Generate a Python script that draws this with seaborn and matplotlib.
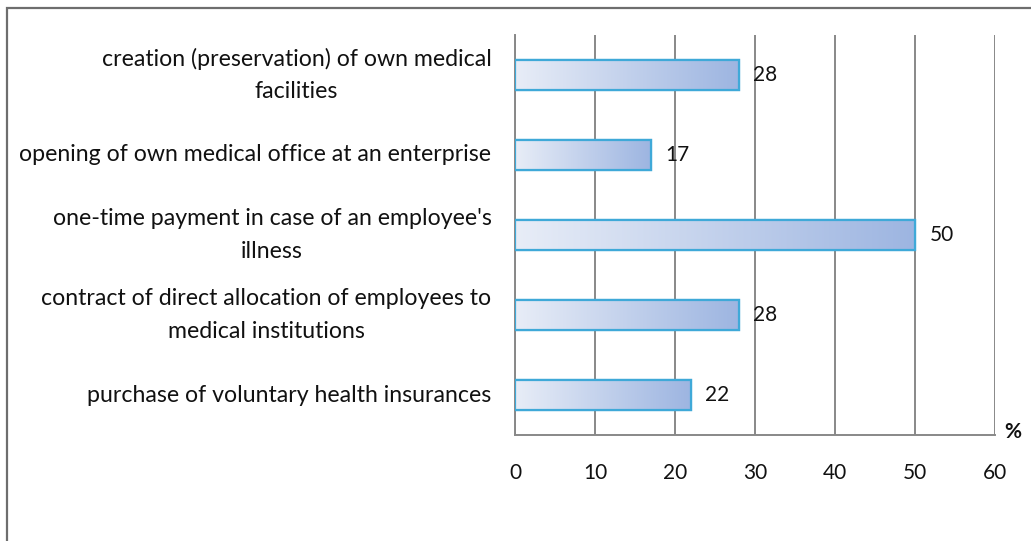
import numpy as np
import pandas as pd
import matplotlib
matplotlib.use("Agg")
import matplotlib.pyplot as plt
import seaborn as sns
from matplotlib.colors import LinearSegmentedColormap
from matplotlib.patches import Rectangle

categories = [
    "creation (preservation) of own medical\nfacilities",
    "opening of own medical office at an enterprise",
    "one-time payment in case of an employee's\nillness",
    "contract of direct allocation of employees to\nmedical institutions",
    "purchase of voluntary health insurances",
]
values = [28, 17, 50, 28, 22]
x_ticks = [0, 10, 20, 30, 40, 50, 60]
unit_label = "%"

sns.set_style("white")
plt.rcParams['font.family'] = ['Lato', 'DejaVu Sans']

df = pd.DataFrame({"category": categories, "value": values})

fig = plt.figure(figsize=(10.31, 5.41), dpi=100)
ax = fig.add_axes([515 / 1031, 1 - 435 / 541, 480 / 1031, 400 / 541])

sns.barplot(data=df, x="value", y="category", orient="h", ax=ax,
            color="#a0b8e2", edgecolor="#3fa9d8", linewidth=1.6,
            width=0.375, zorder=3)

ax.set_xlim(0, 60)
ax.set_ylim(len(categories) - 0.5, -0.5)

# gradient fill inside each bar
cmap = LinearSegmentedColormap.from_list("g", ["#e8edf7", "#9db5e1"])
grad = np.linspace(0, 1, 256).reshape(1, -1)
for p in list(ax.patches):
    x0, y0 = p.get_x(), p.get_y()
    w, h = p.get_width(), p.get_height()
    im = ax.imshow(grad, cmap=cmap, aspect="auto",
                   extent=[x0, x0 + w, y0 + h, y0], zorder=3.5,
                   interpolation="bicubic")
    im.set_clip_path(p)
    edge = Rectangle((x0, y0), w, h, fill=False, edgecolor="#3fa9d8",
                     linewidth=1.6, zorder=4)
    ax.add_patch(edge)
ax.set_xlim(0, 60)
ax.set_ylim(len(categories) - 0.5, -0.5)

# value labels
for i, v in enumerate(values):
    ax.text(v + 1.8, i, str(v), va="center", ha="left", fontsize=15,
            color="#111111", zorder=5)

ax.set_xticks(x_ticks)
ax.set_xticklabels([str(t) for t in x_ticks], fontsize=15)
ax.set_yticks(np.arange(len(categories)))
ax.set_yticklabels(categories, fontsize=16.7, multialignment="center",
                   linespacing=1.7)
for t in ax.get_yticklabels():
    t.set_va("center")
ax.set_xlabel("")
ax.set_ylabel("")

ax.grid(axis="x", color="#888888", linewidth=1.4, zorder=0)
ax.grid(axis="y", visible=False)
ax.set_axisbelow(True)

for s in ["top", "right"]:
    ax.spines[s].set_visible(False)
for s in ["left", "bottom"]:
    ax.spines[s].set_color("#888888")
    ax.spines[s].set_linewidth(1.4)

# category ticks between categories on y axis
ax.set_yticks(np.arange(-0.5, len(categories), 1), minor=True)
ax.tick_params(axis="y", which="major", length=0, pad=17)
ax.tick_params(axis="y", which="minor", length=7, width=1.4, color="#888888")
ax.tick_params(axis="x", which="major", length=7, width=1.4, color="#888888",
               pad=13, labelcolor="#111111")
ax.tick_params(axis="y", labelcolor="#111111")

ax.text(1.036, 0.0075, unit_label, transform=ax.transAxes, fontsize=15,
        fontweight="bold", ha="center", va="center", color="#111111")

# outer frame
fig.patches.append(Rectangle((7 / 1031, -0.05), 1.2, 1 - 8 / 541 + 0.05,
                             transform=fig.transFigure, fill=False,
                             edgecolor="#6e6e6e", linewidth=1.6))

fig.savefig("out.png", dpi=100)
